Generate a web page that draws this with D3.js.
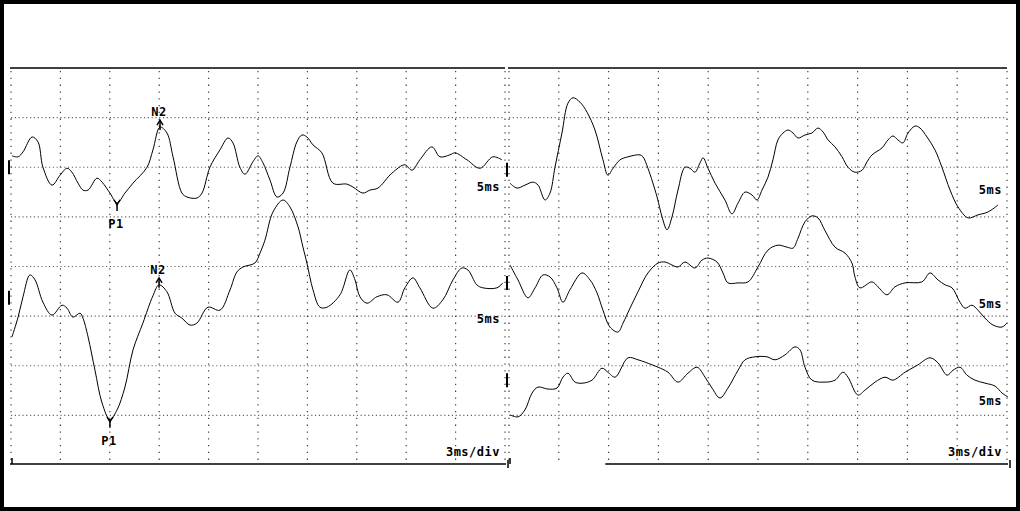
<!DOCTYPE html>
<html>
<head>
<meta charset="utf-8">
<script src="https://d3js.org/d3.v7.min.js"></script>
<style>
html, body { margin: 0; padding: 0; background: #fff; }
svg { display: block; }
.lbl { font-family: "DejaVu Sans Mono", monospace; font-weight: bold; font-size: 12px; letter-spacing: 0.5px; fill: #000; }
</style>
</head>
<body>
<script>
// time axis in ms (3 ms/div, 10 div), amplitude in divisions (8 div)
var timeTicks = d3.range(0, 31, 3);
var ampTicks = d3.range(0, 9, 1);

// left panel traces [ms, div]
var leftTop = [[0.06,6.23],[0.43,6.21],[0.73,6.31],[1.28,6.61],[1.64,6.51],[1.94,6.00],[2.49,5.64],[2.98,5.84],[3.40,5.98],[3.70,5.90],[4.07,5.68],[4.37,5.54],[4.68,5.54],[5.22,5.78],[5.53,5.70],[6.01,5.48],[6.44,5.28],[6.92,5.48],[7.41,5.68],[8.26,6.00],[8.62,6.35],[9.05,6.81],[9.47,6.69],[9.84,6.21],[10.38,5.48],[10.69,5.40],[11.29,5.38],[11.60,5.48],[12.08,6.00],[12.69,6.35],[13.18,6.59],[13.48,6.49],[13.90,6.00],[14.21,5.86],[14.69,6.11],[15.00,6.23],[15.30,6.09],[15.73,5.74],[16.15,5.40],[16.52,5.48],[16.94,6.00],[17.36,6.51],[17.67,6.65],[17.97,6.61],[18.34,6.45],[18.88,6.29],[19.55,5.68],[20.40,5.66],[20.77,5.60],[21.37,5.48],[21.80,5.54],[22.28,5.58],[23.13,5.88],[23.92,6.05],[24.35,5.94],[24.83,6.15],[25.56,6.41],[26.05,6.21],[26.65,6.25],[26.96,6.29],[27.69,6.15],[28.48,5.98],[29.26,6.21],[29.81,6.15]];
var leftBottom = [[0.06,2.58],[0.43,2.98],[0.73,3.39],[1.15,3.83],[1.46,3.73],[1.94,3.28],[2.49,3.02],[3.10,3.22],[3.40,3.16],[3.76,2.98],[4.19,3.06],[4.37,2.96],[4.68,2.58],[5.10,1.91],[5.53,1.25],[6.01,0.91],[6.44,1.11],[6.92,1.57],[7.41,2.32],[8.01,2.86],[8.62,3.41],[8.99,3.63],[9.47,3.49],[9.96,3.06],[10.38,2.96],[10.87,2.82],[11.29,2.86],[11.96,3.18],[12.69,3.12],[13.30,3.53],[13.72,3.89],[14.09,3.99],[14.81,4.07],[15.12,4.27],[15.42,4.53],[15.91,5.10],[16.52,5.34],[16.94,5.20],[17.43,4.80],[17.73,4.39],[17.97,4.07],[18.34,3.53],[18.76,3.18],[19.19,3.18],[19.98,3.43],[20.58,3.93],[20.89,3.73],[21.19,3.39],[21.62,3.26],[22.22,3.39],[22.83,3.43],[23.50,3.28],[23.92,3.57],[24.41,3.77],[24.83,3.57],[25.62,3.16],[26.23,3.33],[26.84,3.73],[27.38,3.97],[27.75,3.93],[28.29,3.63],[28.66,3.57],[29.51,3.57],[29.87,3.67]];

// right panel traces [ms, div]
var rightTop = [[0.06,5.68],[0.48,5.58],[0.96,5.64],[1.45,5.70],[1.75,5.64],[2.17,5.34],[2.47,5.48],[2.77,6.00],[3.19,6.69],[3.55,7.29],[3.86,7.40],[4.28,7.31],[4.70,7.11],[5.18,6.75],[5.66,6.15],[5.96,5.84],[6.27,5.98],[6.69,6.15],[7.17,6.21],[7.89,6.25],[8.07,6.21],[8.37,5.98],[8.92,5.40],[9.22,5.00],[9.52,4.74],[9.82,5.00],[10.18,5.54],[10.60,6.00],[10.90,5.98],[11.20,5.90],[11.51,6.09],[11.69,6.19],[11.99,5.98],[12.41,5.68],[13.01,5.34],[13.43,5.06],[13.80,5.28],[14.22,5.50],[14.64,5.44],[14.94,5.34],[15.24,5.54],[15.60,5.80],[15.90,6.15],[16.20,6.55],[16.51,6.69],[16.81,6.75],[17.11,6.69],[17.41,6.59],[17.83,6.65],[18.25,6.69],[18.61,6.79],[18.92,6.71],[19.22,6.55],[19.64,6.41],[20.06,6.21],[20.42,6.00],[20.84,5.90],[21.27,5.94],[21.57,6.11],[21.87,6.25],[22.47,6.39],[22.83,6.55],[23.13,6.63],[23.43,6.55],[23.73,6.49],[24.04,6.69],[24.46,6.83],[24.76,6.79],[25.18,6.61],[25.66,6.35],[26.08,6.00],[26.57,5.54],[27.05,5.20],[27.65,4.98],[28.25,5.04],[28.86,5.10],[29.46,5.24]];
var rightMiddle = [[0.06,4.03],[0.54,3.73],[1.14,3.37],[1.57,3.57],[2.05,3.83],[2.47,3.79],[2.89,3.57],[3.25,3.28],[3.67,3.53],[4.40,3.87],[4.88,3.73],[5.30,3.47],[5.66,3.12],[6.08,2.78],[6.57,2.68],[6.87,2.86],[7.29,3.16],[7.77,3.49],[8.37,3.87],[8.98,4.07],[9.40,4.09],[9.82,4.03],[10.18,3.99],[10.60,4.09],[11.20,3.97],[11.63,4.13],[11.99,4.17],[12.53,4.09],[12.89,3.87],[13.19,3.67],[13.80,3.67],[14.40,3.69],[15.00,3.99],[15.60,4.33],[16.20,4.43],[16.75,4.39],[17.11,4.37],[17.41,4.57],[17.83,4.90],[18.25,5.02],[18.61,4.98],[19.04,4.72],[19.64,4.39],[20.24,4.27],[20.66,4.07],[20.84,3.79],[21.14,3.57],[21.87,3.69],[22.23,3.59],[22.77,3.43],[23.25,3.59],[23.86,3.67],[24.88,3.69],[25.36,3.87],[25.84,3.73],[26.27,3.63],[26.69,3.57],[27.17,3.28],[27.47,3.16],[27.89,3.22],[28.25,3.12],[28.67,2.96],[29.16,2.82],[29.70,2.78],[30.0,2.86]];
var rightBottom = [[0.06,1.01],[0.54,0.97],[0.96,1.11],[1.39,1.45],[1.75,1.57],[2.35,1.53],[2.89,1.55],[3.25,1.77],[3.55,1.85],[3.98,1.67],[4.46,1.65],[5.00,1.71],[5.60,1.95],[5.96,1.87],[6.39,1.77],[7.17,2.16],[7.77,2.12],[8.61,2.02],[8.98,1.97],[9.58,1.87],[10.18,1.67],[10.78,1.85],[11.33,1.97],[11.81,1.77],[12.23,1.55],[12.71,1.35],[13.19,1.55],[13.80,1.91],[14.22,2.12],[14.82,2.18],[15.54,2.18],[16.02,2.12],[16.63,2.22],[17.23,2.38],[17.53,2.32],[17.83,1.97],[18.25,1.71],[19.04,1.67],[19.64,1.71],[20.12,1.87],[20.42,1.77],[21.02,1.41],[21.45,1.51],[22.05,1.67],[22.65,1.77],[23.13,1.71],[23.86,1.87],[24.64,2.02],[25.36,2.16],[25.84,2.06],[26.39,1.81],[26.75,1.91],[27.17,1.97],[27.59,1.81],[28.07,1.71],[28.67,1.65],[29.28,1.59],[29.70,1.45],[30.06,1.37]];

// baselines (div) per trace, and the sweep label next to each
var leftBaselines = [6.0, 3.37];
var rightBaselines = [5.95, 3.67, 1.71];
var leftSweepLabelV = [5.6, 2.95];
var rightSweepLabelV = [5.55, 3.25, 1.3];
var sweepLabel = "5ms";
var scaleLabel = "3ms/div";

// peak marks: name, ms, div, kind (1 = negative peak, label above)
var peakMarks = [
  ["N2", 9.05, 6.81, 1], ["P1", 6.44, 5.28, -1],
  ["N2", 8.99, 3.63, 1], ["P1", 6.01, 0.91, -1]
];

var W = 1020, H = 511;
var svg = d3.select("body").append("svg").attr("width", W).attr("height", H);

var y = d3.scaleLinear().domain([0, 8]).range([465, 68]);
var xL = d3.scaleLinear().domain([0, 30]).range([11, 505]);
var xR = d3.scaleLinear().domain([0, 30]).range([509, 1007]);

function drawPanel(x, traces, baselines, labelV, bottomStart) {
  var g = svg.append("g");
  // grid
  g.selectAll(".vg").data(timeTicks).enter().append("line")
    .attr("x1", function(d) { return x(d); }).attr("x2", function(d) { return x(d); })
    .attr("y1", y(8) + 3).attr("y2", y(0) - 2)
    .attr("stroke", "#000").attr("stroke-width", 1.2)
    .attr("stroke-dasharray", "1.3,5.5").attr("opacity", 0.75);
  g.selectAll(".hg").data(ampTicks.slice(1, 8)).enter().append("line")
    .attr("x1", x(0)).attr("x2", x(30))
    .attr("y1", function(d) { return y(d); }).attr("y2", function(d) { return y(d); })
    .attr("stroke", "#000").attr("stroke-width", 1.1)
    .attr("stroke-dasharray", "1.2,2.6").attr("opacity", 0.6);
  // top rule and bottom axis
  g.append("line").attr("x1", x(0) - 1).attr("x2", x(30)).attr("y1", y(8)).attr("y2", y(8))
    .attr("stroke", "#000").attr("stroke-width", 1.6);
  g.append("line").attr("x1", bottomStart).attr("x2", x(30) + 1).attr("y1", y(0) - 1).attr("y2", y(0) - 1)
    .attr("stroke", "#000").attr("stroke-width", 1.4);
  g.append("line").attr("x1", x(0) + 1).attr("x2", x(0) + 1).attr("y1", y(0) - 7).attr("y2", y(0) - 1)
    .attr("stroke", "#000").attr("stroke-width", 1.5);
  g.append("line").attr("x1", x(30) + 3).attr("x2", x(30) + 3).attr("y1", y(0) - 5).attr("y2", y(0) + 3)
    .attr("stroke", "#000").attr("stroke-width", 1.5);

  var line = d3.line()
    .x(function(d) { return x(d[0]); })
    .y(function(d) { return y(d[1]); })
    .curve(d3.curveCatmullRom.alpha(0.5));
  traces.forEach(function(tr) {
    g.append("path").datum(tr).attr("d", line)
      .attr("fill", "none").attr("stroke", "#000").attr("stroke-width", 1);
  });
  // baseline marks at sweep start
  baselines.forEach(function(b) {
    g.append("line").attr("x1", x(0) - 2).attr("x2", x(0) - 2)
      .attr("y1", y(b) - 7).attr("y2", y(b) + 7)
      .attr("stroke", "#000").attr("stroke-width", 2);
  });
  labelV.forEach(function(v) {
    g.append("text").attr("class", "lbl").attr("x", x(30) - 5).attr("y", y(v))
      .attr("text-anchor", "end").attr("dy", "0.35em").text(sweepLabel);
  });
  g.append("text").attr("class", "lbl").attr("x", x(30) - 5).attr("y", y(0) - 9)
    .attr("text-anchor", "end").text(scaleLabel);
}

drawPanel(xL, [leftTop, leftBottom], leftBaselines, leftSweepLabelV, xL(0) - 1);
drawPanel(xR, [rightTop, rightMiddle, rightBottom], rightBaselines, rightSweepLabelV, xR(5.8));

// peak markers: "↑" on negative peaks, "Y" on positive troughs
peakMarks.forEach(function(p) {
  var px = xL(p[1]), py = y(p[2]), neg = p[3] > 0;
  var g = svg.append("g");
  if (neg) {
    g.append("line").attr("x1", px).attr("x2", px).attr("y1", py - 6).attr("y2", py + 3)
      .attr("stroke", "#000").attr("stroke-width", 1.5);
    g.append("path")
      .attr("d", "M" + (px - 3) + "," + (py - 2) + "L" + px + "," + (py - 7) + "L" + (px + 3) + "," + (py - 2))
      .attr("fill", "none").attr("stroke", "#000").attr("stroke-width", 1.4);
  } else {
    g.append("line").attr("x1", px).attr("x2", px).attr("y1", py).attr("y2", py + 8)
      .attr("stroke", "#000").attr("stroke-width", 1.5);
    g.append("path")
      .attr("d", "M" + (px - 3) + "," + (py - 3) + "L" + px + "," + (py + 2) + "L" + (px + 3) + "," + (py - 3))
      .attr("fill", "none").attr("stroke", "#000").attr("stroke-width", 1.4);
  }
  g.append("text").attr("class", "lbl").attr("x", px - 1)
    .attr("y", neg ? py - 11 : py + 25)
    .attr("text-anchor", "middle").text(p[0]);
});

// outer frame
svg.append("rect").attr("x", 0).attr("y", 0).attr("width", W).attr("height", H)
  .attr("fill", "none").attr("stroke", "#000").attr("stroke-width", 8);
</script>
</body>
</html>
